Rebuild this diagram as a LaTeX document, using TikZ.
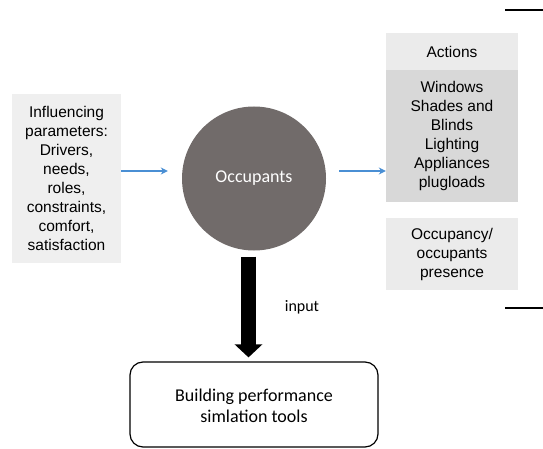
\documentclass[tikz,border=0pt]{standalone}
\usepackage{fontspec}
\setmainfont{Liberation Sans}
\newfontfamily\calib{Carlito}
\usetikzlibrary{arrows.meta}
\definecolor{leftgray}{HTML}{EFEFEF}
\definecolor{actgray}{HTML}{EBEBEB}
\definecolor{darkbox}{HTML}{D8D8D8}
\definecolor{occgray}{HTML}{716B6A}
\definecolor{arrowblue}{HTML}{4A8FD4}
\tikzset{
  graybox/.style={fill=#1, draw=none, inner sep=0pt, align=center, text=black,
    font=\fontsize{15.5}{19}\selectfont},
  bluearr/.style={draw=arrowblue, line width=1.5pt, -{Stealth[length=7pt,width=7pt]}},
  bigarr/.style={line width=15pt, -{Triangle[length=13pt,width=27pt]}},
  edge/.style={line width=1.5pt}
}
\begin{document}
\begin{tikzpicture}[x=1pt,y=-1pt]
\useasboundingbox (0,0) rectangle (543,449);
% left box
\node[graybox=leftgray, minimum width=109pt, minimum height=169pt] (inf) at (66.5,178.5)
  {Influencing\\parameters:\\Drivers,\\needs,\\roles,\\constraints,\\comfort,\\satisfaction};
% circle
\node[circle, fill=occgray, minimum size=144pt, inner sep=0pt, text=white,
  font=\calib\fontsize{18}{21}\selectfont] (occ) at (254,178.5) {Occupants};
% right boxes
\node[graybox=actgray, minimum width=132pt, minimum height=37pt] (act) at (452,51.5) {Actions};
\node[graybox=darkbox, minimum width=132pt, minimum height=132pt] (acts) at (452,136)
  {Windows\\Shades and\\Blinds\\Lighting\\Appliances\\plugloads};
\node[graybox=actgray, minimum width=132pt, minimum height=72pt] (pres) at (452,254)
  {Occupancy/\\occupants\\presence};
% bottom box
\node[draw, line width=1.2pt, rounded corners=13pt, minimum width=248pt, minimum height=85pt,
  inner sep=0pt, font=\calib\fontsize{18}{21.5}\selectfont] (bps) at (254,404.5)
  {\raisebox{-7.5pt}[0pt][0pt]{\begin{tabular}{@{}c@{}}Building performance\\simlation tools\end{tabular}}};
% blue arrows
\draw[bluearr] ([yshift=7.5pt]inf.east) -- ([yshift=7.5pt,xshift=-14pt]inf.east -| occ.west);
\draw[bluearr] ([yshift=7.5pt,xshift=13pt]occ.east) -- ([yshift=7.5pt]occ.east -| acts.west);
% big black arrow
\draw[bigarr] ([xshift=-5.5pt,yshift=-6pt]occ.south) -- ([xshift=-5.5pt,yshift=4pt]bps.north);
\node[font=\calib\fontsize{16}{19}\selectfont, anchor=center] (inp) at (302,307) {input};
% bracket lines on the right
\coordinate (t1) at (505,10);
\coordinate (t2) at (543,10);
\coordinate (b1) at (505,308);
\coordinate (b2) at (543,308);
\draw[edge] (t1) -- (t2);
\draw[edge] (b1) -- (b2);
\end{tikzpicture}
\end{document}
